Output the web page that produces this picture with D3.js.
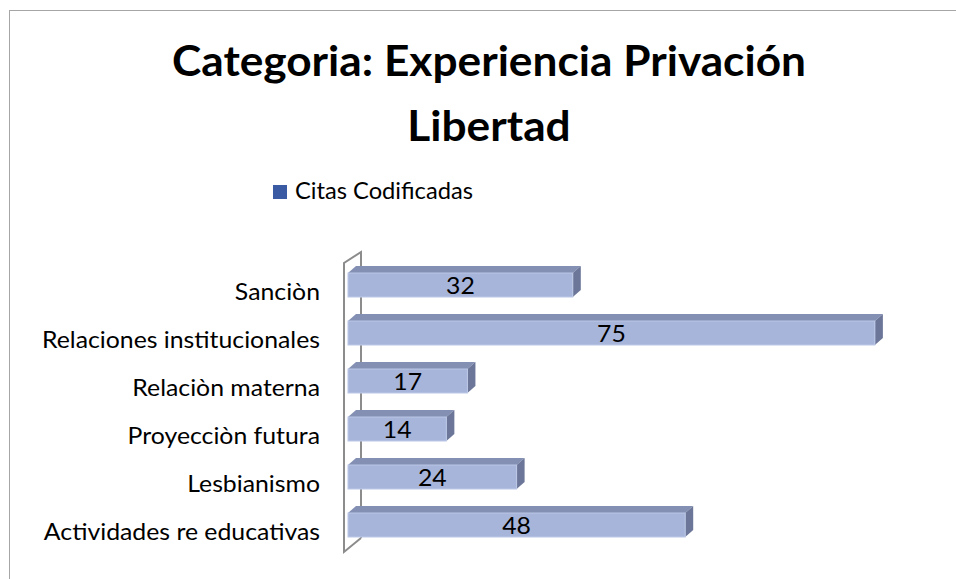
<!DOCTYPE html>
<html>
<head>
<meta charset="utf-8">
<script src="https://cdn.jsdelivr.net/npm/d3@7"></script>
<style>
  body { margin: 0; background: #fff; }
  text { font-family: Lato, "Noto Sans", sans-serif; }
</style>
</head>
<body>
<svg id="chart" width="956" height="579"></svg>
<script>
// chart data
var categories = ['Sanciòn', 'Relaciones institucionales', 'Relaciòn materna',
                  'Proyecciòn futura', 'Lesbianismo', 'Actividades re educativas'];
var values = [32, 75, 17, 14, 24, 48];
var seriesName = 'Citas Codificadas';
var titleLines = ['Categoria: Experiencia Privación', 'Libertad'];

var svg = d3.select('#chart');
var depthX = 8, depthY = 7;

// squeeze text horizontally by a ratio (reference font is narrower)
function squeeze(sel, ratio) {
  sel.each(function() {
    var w = this.getComputedTextLength();
    d3.select(this)
      .attr('textLength', w * ratio)
      .attr('lengthAdjust', 'spacingAndGlyphs');
  });
}
function ratioFor(sel, target) {
  return target / sel.node().getComputedTextLength();
}

// outer border of the chart area
svg.append('rect')
  .attr('x', 9.5).attr('y', 10.5)
  .attr('width', 1000).attr('height', 1000)
  .attr('fill', '#fff')
  .attr('stroke', '#a6a6a6');

// title
var titles = svg.append('g').selectAll('text')
  .data(titleLines)
  .enter()
  .append('text')
  .attr('x', 489)
  .attr('y', function(d, i) { return 76 + i * 65; })
  .attr('text-anchor', 'middle')
  .style('font-weight', 'bold')
  .style('font-size', '42px')
  .text(function(d) { return d; });
squeeze(titles, ratioFor(titles.filter(function(d, i) { return i == 0; }), 634));

// legend
svg.append('rect')
  .attr('x', 273).attr('y', 185)
  .attr('width', 14).attr('height', 14)
  .attr('fill', '#3a5ba4');
var lg = svg.append('text')
  .attr('x', 295).attr('y', 199)
  .style('font-size', '23px')
  .text(seriesName);
squeeze(lg, ratioFor(lg, 178));

// scales
var x = d3.scaleLinear().domain([0, 80]).range([348, 910]);
var y = d3.scaleBand().domain(categories).range([261, 549])
  .paddingInner(0.5).paddingOuter(0.25);

// the side wall
svg.append('path')
  .attr('fill', 'none')
  .attr('stroke', '#8c8c8c')
  .attr('stroke-width', 2)
  .attr('d', 'M361,538 L361,252 L344,263 L344,552 L361,538');

// bars with top and side faces
var bars = svg.append('g').selectAll('g')
  .data(values)
  .enter()
  .append('g');

bars.append('path')
  .attr('fill', '#838fb3')
  .attr('d', function(d, i) {
    var y0 = y(categories[i]);
    return 'M' + x(0) + ',' + y0 + 'L' + (x(0) + depthX) + ',' + (y0 - depthY) +
           'L' + (x(d) + depthX) + ',' + (y0 - depthY) + 'L' + x(d) + ',' + y0 + 'Z';
  });
bars.append('path')
  .attr('fill', '#6b7698')
  .attr('d', function(d, i) {
    var y0 = y(categories[i]), y1 = y0 + y.bandwidth();
    return 'M' + x(d) + ',' + y0 + 'L' + (x(d) + depthX) + ',' + (y0 - depthY) +
           'L' + (x(d) + depthX) + ',' + (y1 - depthY) + 'L' + x(d) + ',' + y1 + 'Z';
  });
bars.append('rect')
  .attr('x', x(0))
  .attr('y', function(d, i) { return y(categories[i]); })
  .attr('width', function(d) { return x(d) - x(0); })
  .attr('height', y.bandwidth())
  .attr('fill', '#a7b5db')
  .attr('stroke', '#bcc8e6')
  .attr('stroke-width', 1);

// category labels
var labels = svg.append('g').selectAll('text')
  .data(categories)
  .enter()
  .append('text')
  .attr('x', 320)
  .attr('y', function(d) { return y(d) + y.bandwidth() / 2 + 15; })
  .attr('text-anchor', 'end')
  .attr('fill', '#000')
  .style('font-size', '23px')
  .text(function(d) { return d; });
var labelRatio = ratioFor(labels.filter(function(d, i) { return i == 1; }), 278);
squeeze(labels, labelRatio);

// value labels
var vals = bars.append('text')
  .attr('x', function(d) { return (x(0) + x(d)) / 2; })
  .attr('y', function(d, i) { return y(categories[i]) + y.bandwidth() / 2 + 9; })
  .attr('text-anchor', 'middle')
  .style('font-size', '23px')
  .text(function(d) { return d; });
squeeze(vals, labelRatio);
</script>
</body>
</html>
